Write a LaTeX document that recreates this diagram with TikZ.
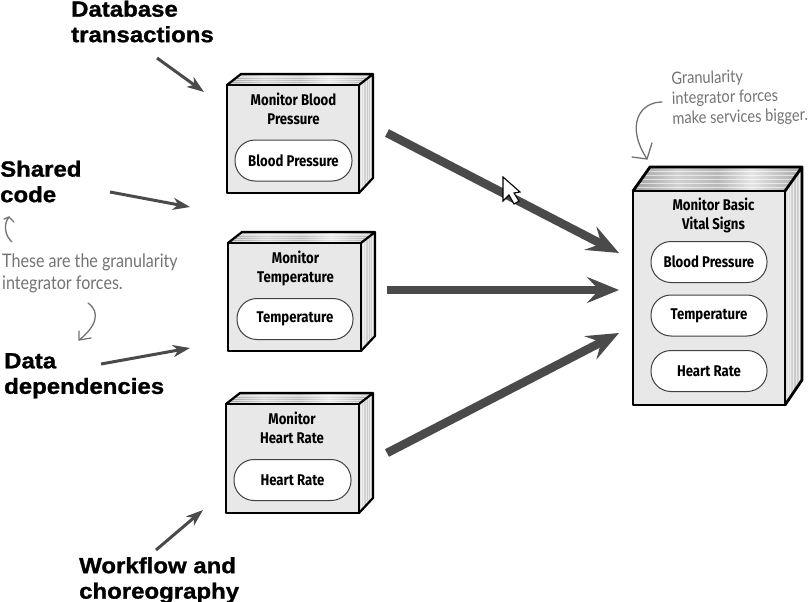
\documentclass[tikz,border=0pt]{standalone}
\usepackage{fontspec}
\setmainfont{Liberation Sans}
\newfontfamily\leadfont[UprightFont=* Bold,FakeBold=1.2,FakeStretch=1.09]{Liberation Sans}
\newfontfamily\handfont[FakeStretch=0.85]{Fira Sans}
\newfontfamily\notefont[FakeStretch=0.86]{Lato}
\usetikzlibrary{arrows.meta,calc}
\definecolor{ink}{gray}{0.29}
\definecolor{notegray}{gray}{0.45}
\pgfdeclarehorizontalshading{topsheen}{100bp}{
  color(0bp)=(black!50); color(22bp)=(black!42); color(38bp)=(black!18); color(50bp)=(black!28);
  color(60bp)=(black!10); color(72bp)=(black!30); color(88bp)=(black!22); color(100bp)=(black!48)}
\pgfdeclarehorizontalshading{sidesheen}{100bp}{
  color(0bp)=(black!38); color(30bp)=(black!12); color(55bp)=(black!22); color(75bp)=(black!10); color(100bp)=(black!30)}
\tikzset{
  lead/.style={font=\leadfont\fontsize{22}{25.5}\selectfont,align=left,anchor=north west,inner sep=0pt,text=black},
  boxtitle/.style={font=\handfont\bfseries\fontsize{15.5}{19}\selectfont,align=center,inner sep=0pt,text=black},
  pill/.style={draw=black!75,line width=1pt,rounded corners=20pt,fill=white,font=\handfont\bfseries\fontsize{15.5}{19}\selectfont,inner sep=0pt,text=black},
  note/.style={font=\notefont\fontsize{17}{20}\selectfont,text=notegray,align=left,anchor=north west,inner sep=0pt},
  thick arrow/.style={draw=ink,line width=8.5pt,-{Stealth[length=32pt,width=26pt,inset=12pt]}},
  thin arrow/.style={draw=ink,line width=3pt,-{Stealth[length=17pt,width=12pt,inset=5pt]}},
  hand arrow/.style={draw=notegray,line width=1.3pt,line cap=round,line join=round},
  streak/.style={draw=white,line width=.5pt,opacity=.6},
}
\newcommand{\solidbox}[9]{% name, x1,y1,x2,y2,dx,dy,drop of the back corner,line width
  \coordinate (#1-a) at (#2,#3);
  \coordinate (#1-b) at (#4,#3);
  \coordinate (#1-c) at (#4,#5);
  \coordinate (#1-d) at (#2,#5);
  \coordinate (#1-e) at (#2+#6,#3-#7);
  \coordinate (#1-f) at (#4+#6,#3-#7);
  \coordinate (#1-g) at (#4+#6,#5-#8);
  \fill[black!9] (#1-a) -- (#1-b) -- (#1-c) -- (#1-d) -- cycle;
  \shade[shading=topsheen] (#1-a) -- (#1-e) -- (#1-f) -- (#1-b) -- cycle;
  \shade[shading=sidesheen] (#1-b) -- (#1-f) -- (#1-g) -- (#1-c) -- cycle;
  \begin{scope}
    \clip (#1-a) -- (#1-e) -- (#1-f) -- (#1-b) -- cycle;
    \foreach \k in {1,...,5}{
      \draw[streak] ($(#1-a)!\k/6!(#1-e)$) -- ($(#1-b)!\k/6!(#1-f)$);
    }
  \end{scope}
  \begin{scope}
    \clip (#1-b) -- (#1-f) -- (#1-g) -- (#1-c) -- cycle;
    \foreach \k in {1,...,5}{
      \draw[streak] ($(#1-b)!\k/6!(#1-f)$) -- ($(#1-c)!\k/6!(#1-g)$);
    }
  \end{scope}
  \draw[line width=#9,line join=round,line cap=round] (#1-a) -- (#1-b) -- (#1-c) -- (#1-d) -- cycle;
  \draw[line width=#9,line join=round,line cap=round] (#1-a) -- (#1-e) -- (#1-f) -- (#1-b) (#1-f) -- (#1-g) -- (#1-c);
}
\begin{document}
\begin{tikzpicture}[x=1pt,y=-1pt]
\useasboundingbox (0,0) rectangle (811,602);

% service boxes
\solidbox{bp}{227}{85}{359}{193}{14}{11}{15}{2.2pt}
\solidbox{tp}{228}{243}{361}{351}{14}{11}{15}{2.2pt}
\solidbox{hr}{226}{404}{359}{513}{14}{11}{15}{2.2pt}
\solidbox{vs}{633}{191}{785}{405}{17}{24}{25}{2.8pt}

\node[boxtitle] (bpt) at (293.5,108.5) {Monitor Blood\\Pressure};
\node[pill,minimum width=117pt,minimum height=41pt] (bpp) at (293.5,160.5) {Blood Pressure};
\node[boxtitle] (tpt) at (295.5,268) {Monitor\\Temperature};
\node[pill,minimum width=116pt,minimum height=41pt] (tpp) at (295,319) {Temperature};
\node[boxtitle] (hrt) at (292,428) {Monitor\\Heart Rate};
\node[pill,minimum width=117pt,minimum height=41pt] (hrp) at (292.5,480) {Heart Rate};
\node[boxtitle] (vst) at (713.5,215.5) {Monitor Basic\\Vital Signs};
\node[pill,minimum width=116pt,minimum height=41pt] (vs1) at (709,262) {Blood Pressure};
\node[pill,minimum width=116pt,minimum height=41pt] (vs2) at (709,315.5) {Temperature};
\node[pill,minimum width=116pt,minimum height=41pt] (vs3) at (709,371) {Heart Rate};

% force labels
\node[lead] (db) at (71,0.5) {Database\\transactions};
\node[lead] (sc) at (0,160.5) {Shared\\code};
\node[lead] (dd) at (4,353) {Data\\dependencies};
\node[lead] (wf) at (79,557) {Workflow and\\choreography};

% thin arrows
\coordinate (a1s) at (157,58);  \coordinate (a1e) at (204,92);
\coordinate (a2s) at (110,192); \coordinate (a2e) at (190,207);
\coordinate (a3s) at (101,364); \coordinate (a3e) at (190,348);
\coordinate (a4s) at (156,550); \coordinate (a4e) at (203,510);
\draw[thin arrow] (a1s) -- (a1e);
\draw[thin arrow] (a2s) -- (a2e);
\draw[thin arrow] (a3s) -- (a3e);
\draw[thin arrow] (a4s) -- (a4e);

% thick arrows
\coordinate (b1s) at (387,133); \coordinate (b1e) at (619,253);
\coordinate (b2s) at (387,290); \coordinate (b2e) at (619,290);
\coordinate (b3s) at (387,453); \coordinate (b3e) at (619,333);
\draw[thick arrow] (b1s) -- (b1e);
\draw[thick arrow] (b2s) -- (b2e);
\draw[thick arrow] (b3s) -- (b3e);

% cursor
\draw[fill=white,line width=1.1pt,line join=miter] (503,177) -- (503,201) -- (509,195) -- (514,204) -- (519,201) -- (514,193) -- (520,192) -- cycle;

% notes
\node[note,rotate=1.5] (n1) at (671,71.5) {Granularity\\integrator forces\\make services bigger.};
\node[note,font=\notefont\fontsize{18.7}{22}\selectfont] (n2) at (2,253.5) {These are the granularity\\integrator forces.};
\coordinate (c1s) at (662,102); \coordinate (c1e) at (647,159);
\draw[hand arrow] (c1s) .. controls (640,102) and (625,125) .. (c1e);
\draw[hand arrow] (632,157) -- (c1e) -- (652,143);
\coordinate (c2s) at (12,242); \coordinate (c2e) at (9,217);
\draw[hand arrow] (c2s) .. controls (5,236) and (3,224) .. (c2e);
\draw[hand arrow] (4,219) -- (c2e) -- (14,222);
\coordinate (c3s) at (88,303); \coordinate (c3e) at (79,340);
\draw[hand arrow] (c3s) .. controls (101,312) and (96,327) .. (c3e);
\draw[hand arrow] (79,331) -- (c3e) -- (91,338);
\end{tikzpicture}
\end{document}
